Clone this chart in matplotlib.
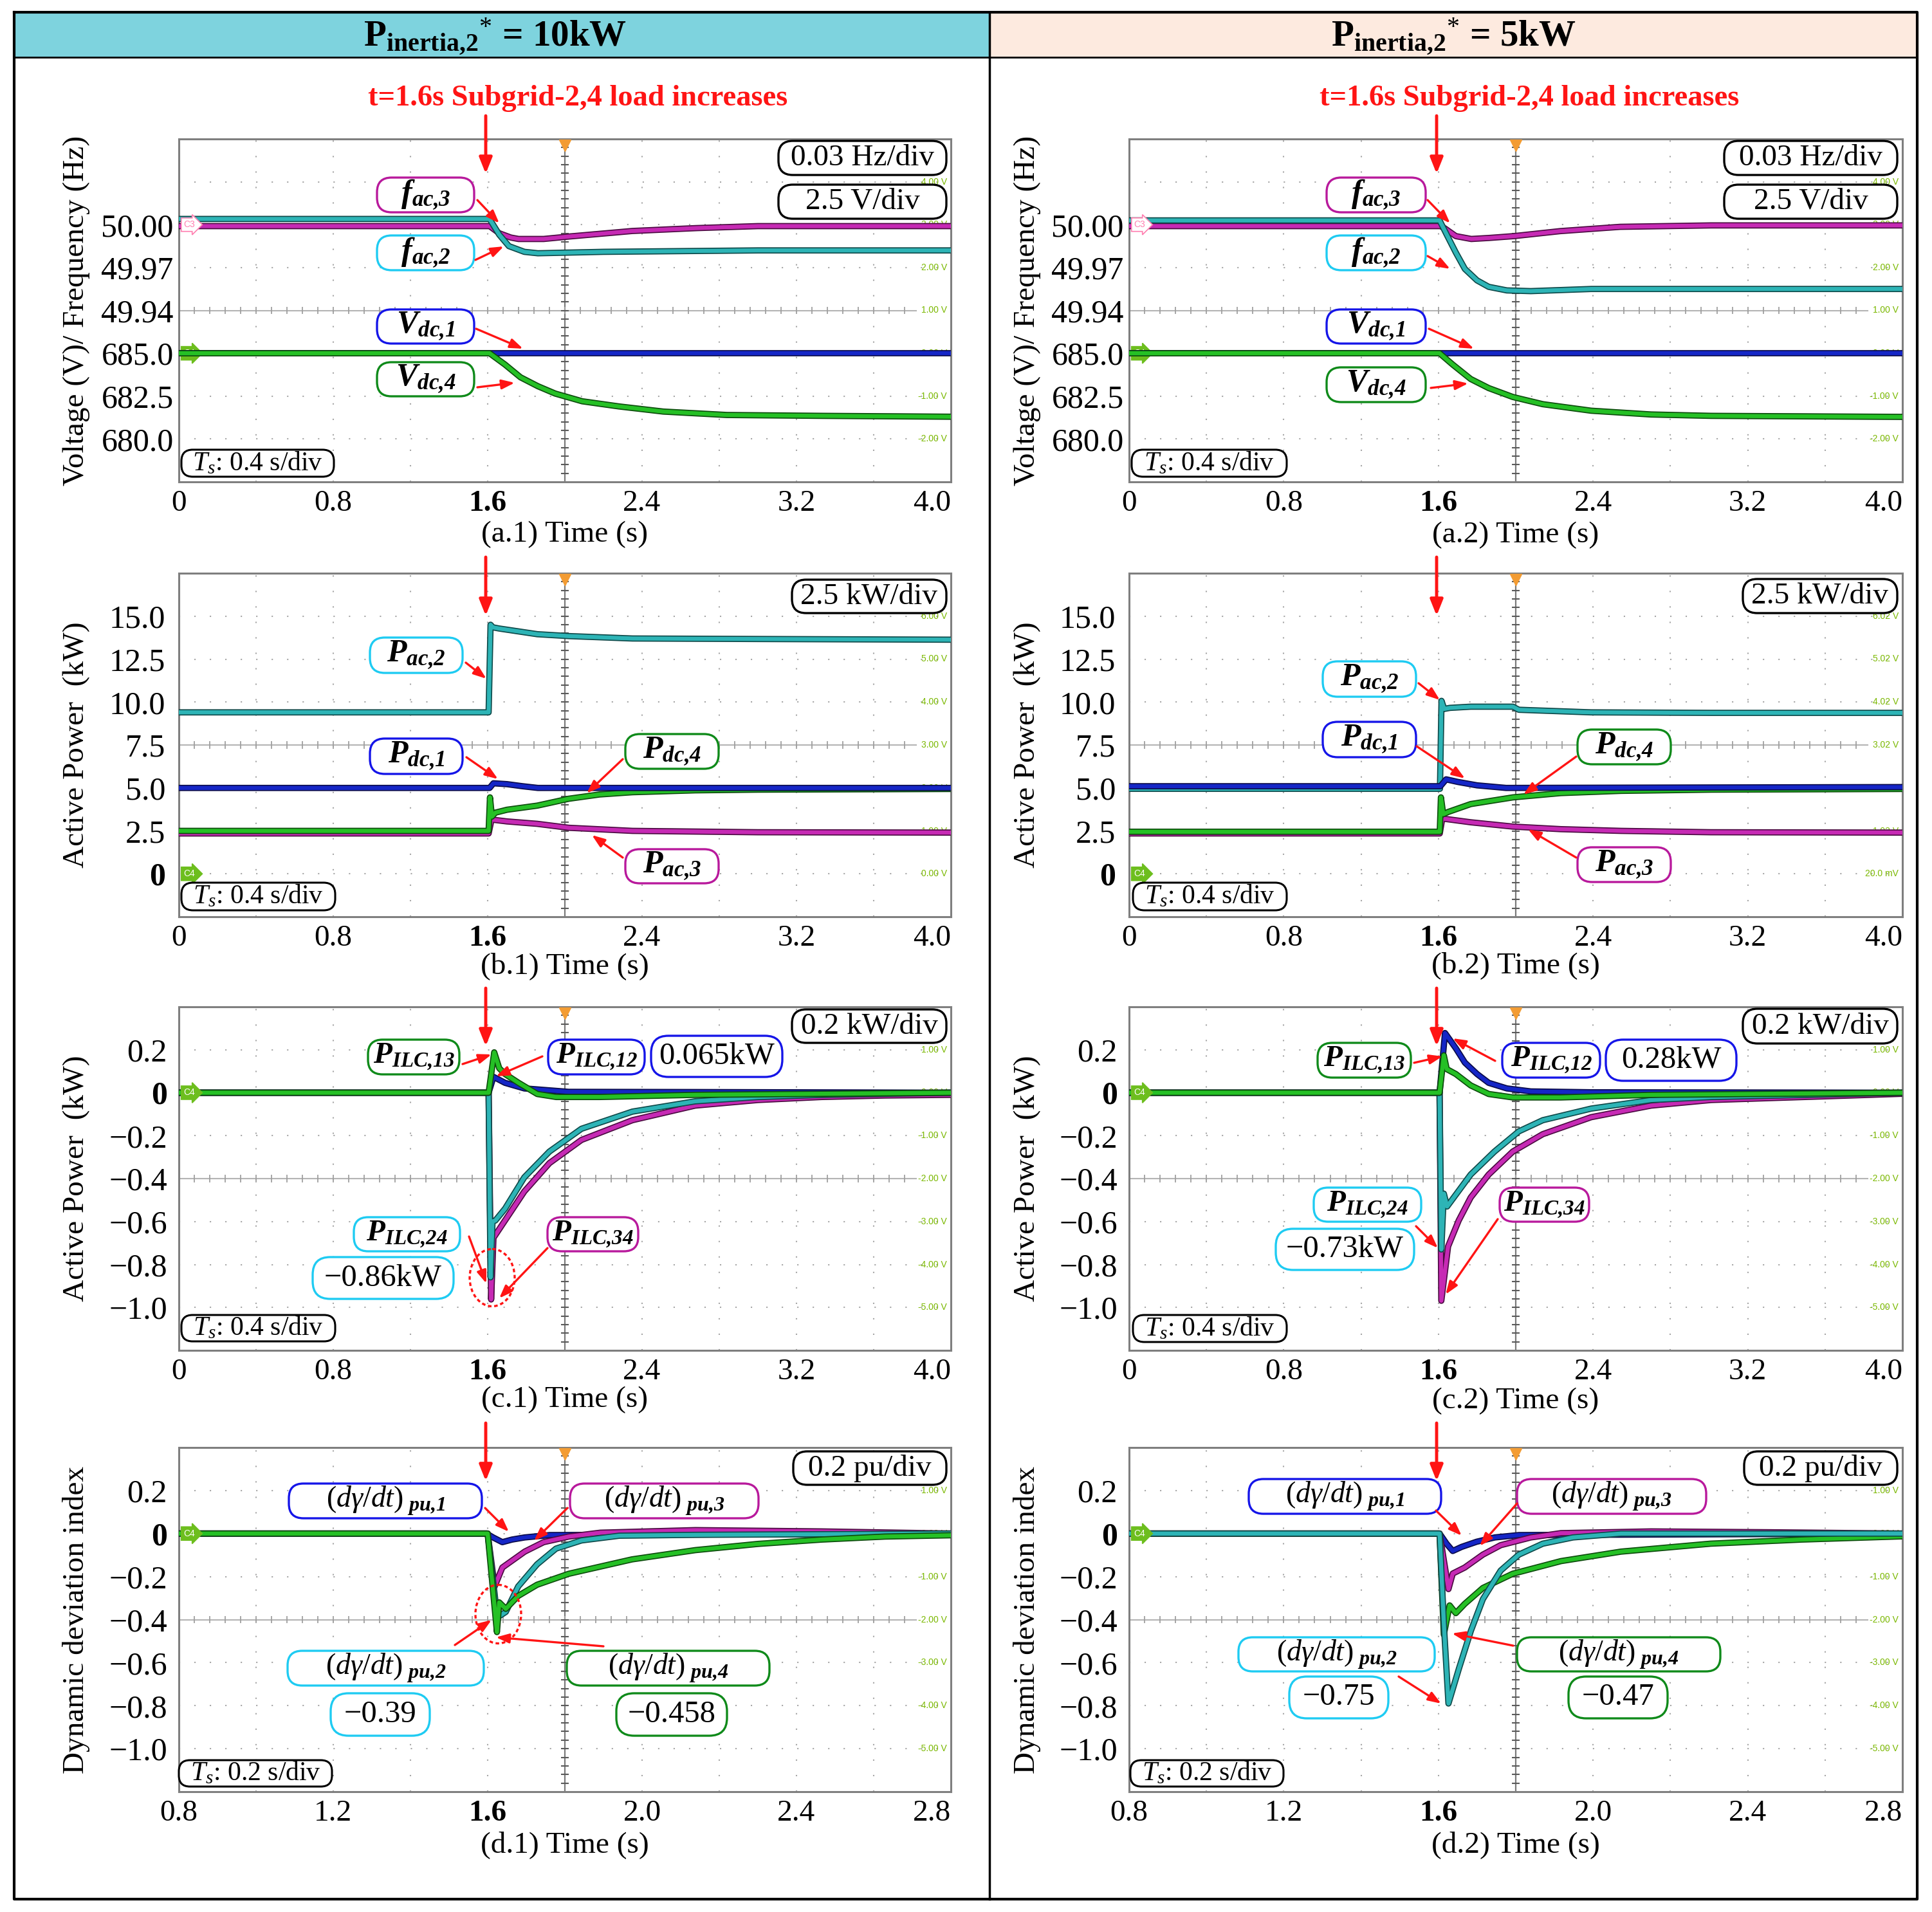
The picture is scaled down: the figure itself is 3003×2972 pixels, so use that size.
import matplotlib
matplotlib.use('Agg')
import matplotlib.pyplot as plt
import matplotlib.patheffects as pe
from matplotlib.patches import FancyBboxPatch, Ellipse, Rectangle
import numpy as np

# ---------------- data read off the scope captures ----------------
# (a) ac frequency (Hz) / dc voltage (V), time in s
t_fac3_a1 = [0, 1.61, 1.66, 1.72, 1.76, 1.89, 2.02, 2.35, 2.68, 3.00, 4.00]
fac3_a1 = [49.999, 49.999, 49.994, 49.991, 49.990, 49.990, 49.9917, 49.9956, 49.9976, 49.999, 49.999]
t_fac2_a1 = [0, 1.61, 1.66, 1.71, 1.79, 1.86, 2.20, 3.00, 4.00]
fac2_a1 = [50.004, 50.004, 49.993, 49.985, 49.981, 49.980, 49.981, 49.982, 49.982]
t_vdc1_a1 = [0, 1.60, 4.00]
vdc1_a1 = [685.0, 685.0, 685.0]
t_vdc4_a1 = [0, 1.61, 1.69, 1.77, 1.86, 1.95, 2.09, 2.28, 2.51, 2.84, 3.33, 4.00]
vdc4_a1 = [685.0, 685.0, 684.34, 683.6, 683.08, 682.65, 682.2, 681.9, 681.6, 681.4, 681.35, 681.3]

t_fac3_a2 = [0, 1.61, 1.63, 1.69, 1.77, 1.86, 1.99, 2.23, 2.54, 3.01, 4.00]
fac3_a2 = [49.999, 49.999, 49.9977, 49.992, 49.990, 49.9907, 49.992, 49.9955, 49.9985, 49.9995, 49.9995]
t_fac2_a2 = [0, 1.606, 1.643, 1.69, 1.737, 1.80, 1.86, 1.954, 2.078, 2.39, 3.01, 4.00]
fac2_a2 = [50.003, 50.003, 49.993, 49.9805, 49.969, 49.961, 49.9565, 49.954, 49.9535, 49.955, 49.955, 49.955]
t_vdc1_a2 = [0, 1.60, 4.00]
vdc1_a2 = [685.0, 685.0, 685.0]
t_vdc4_a2 = [0, 1.606, 1.674, 1.767, 1.86, 1.985, 2.14, 2.39, 2.70, 3.01, 4.00]
vdc4_a2 = [685.0, 685.0, 684.34, 683.5, 682.97, 682.45, 682.03, 681.65, 681.43, 681.35, 681.29]

# (b) active power (kW)
t_pac2_b1 = [0, 1.605, 1.615, 1.627, 1.66, 1.857, 2.02, 2.35, 3.00, 4.00]
pac2_b1 = [9.4, 9.4, 14.5, 14.35, 14.28, 13.95, 13.84, 13.7, 13.67, 13.63]
t_pdc1_b1 = [0, 1.61, 1.63, 1.70, 1.78, 1.86, 4.00]
pdc1_b1 = [5.0, 5.0, 5.27, 5.22, 5.1, 5.0, 5.0]
t_pdc4_b1 = [0, 1.605, 1.612, 1.622, 1.64, 1.70, 1.857, 2.02, 2.18, 2.35, 2.675, 3.00, 4.00]
pdc4_b1 = [2.5, 2.5, 4.45, 3.33, 3.56, 3.73, 3.97, 4.37, 4.62, 4.75, 4.86, 4.9, 4.94]
t_pac3_b1 = [0, 1.605, 1.62, 1.70, 1.857, 2.02, 2.35, 3.00, 4.00]
pac3_b1 = [2.35, 2.35, 3.16, 3.05, 2.91, 2.68, 2.5, 2.42, 2.4]

t_pac2_b2 = [0, 1.608, 1.616, 1.63, 1.659, 1.767, 1.985, 2.016, 2.39, 3.01, 4.00]
pac2_b2 = [4.95, 4.95, 10.07, 9.6, 9.66, 9.73, 9.73, 9.55, 9.4, 9.37, 9.37]
t_pdc1_b2 = [0, 1.61, 1.64, 1.70, 1.80, 1.95, 4.00]
pdc1_b2 = [5.1, 5.1, 5.5, 5.35, 5.15, 5.0, 5.05]
t_pdc4_b2 = [0, 1.607, 1.613, 1.625, 1.65, 1.767, 1.985, 2.233, 2.544, 3.01, 4.00]
pdc4_b2 = [2.45, 2.45, 4.45, 3.47, 3.6, 4.06, 4.45, 4.7, 4.83, 4.9, 4.94]
t_pac3_b2 = [0, 1.607, 1.62, 1.767, 1.985, 2.233, 2.544, 3.01, 4.00]
pac3_b2 = [2.35, 2.35, 3.22, 3.0, 2.75, 2.6, 2.5, 2.42, 2.4]

# (c) ILC power (kW)
t_p13_c1 = [0, 1.605, 1.634, 1.66, 1.69, 1.76, 1.857, 1.955, 2.18, 2.675, 4.00]
p13_c1 = [0, 0, 0.188, 0.114, 0.087, 0.046, -0.006, -0.02, -0.02, -0.01, 0]
t_p12_c1 = [0, 1.605, 1.63, 1.69, 1.79, 2.02, 2.675, 4.00]
p12_c1 = [0, 0, 0.074, 0.046, 0.02, 0.004, 0.003, 0]
t_p24_c1 = [0, 1.605, 1.615, 1.625, 1.64, 1.69, 1.79, 1.92, 2.086, 2.35, 2.675, 3.00, 3.33, 4.00]
p24_c1 = [0, 0, -0.86, -0.60, -0.595, -0.54, -0.394, -0.274, -0.168, -0.088, -0.04, -0.02, -0.01, 0]
t_p34_c1 = [0, 1.605, 1.618, 1.63, 1.69, 1.79, 1.92, 2.086, 2.35, 2.675, 3.00, 3.33, 3.66, 4.00]
p34_c1 = [0, 0, -0.963, -0.676, -0.595, -0.46, -0.328, -0.22, -0.128, -0.06, -0.034, -0.02, -0.013, -0.01]

t_p12_c2 = [0, 1.606, 1.634, 1.69, 1.737, 1.80, 1.86, 1.954, 2.078, 2.39, 4.00]
p12_c2 = [0, 0, 0.278, 0.207, 0.14, 0.087, 0.046, 0.02, 0.006, 0.002, 0]
t_p13_c2 = [0, 1.606, 1.628, 1.643, 1.69, 1.767, 1.86, 1.985, 2.233, 2.70, 4.00]
p13_c2 = [0, 0, 0.174, 0.11, 0.087, 0.034, -0.006, -0.022, -0.022, -0.01, 0]
t_p24_c2 = [0, 1.606, 1.615, 1.628, 1.645, 1.767, 1.89, 2.016, 2.14, 2.39, 2.70, 3.01, 4.00]
p24_c2 = [0, 0, -0.73, -0.47, -0.53, -0.381, -0.274, -0.18, -0.128, -0.074, -0.034, -0.02, 0]
t_p34_c2 = [0, 1.606, 1.615, 1.65, 1.705, 1.767, 1.86, 1.985, 2.14, 2.39, 2.70, 3.01, 3.63, 4.00]
p34_c2 = [0, 0, -0.969, -0.716, -0.595, -0.488, -0.381, -0.274, -0.193, -0.114, -0.06, -0.034, -0.016, -0.005]

# (d) dynamic deviation index (pu)
t_g1_d1 = [0.8, 1.597, 1.614, 1.638, 1.663, 1.696, 1.761, 2.8]
g1_d1 = [0, 0, -0.018, -0.04, -0.028, -0.018, -0.007, 0]
t_g3_d1 = [0.8, 1.600, 1.618, 1.638, 1.696, 1.745, 1.81, 1.892, 2.138, 2.465, 2.8]
g3_d1 = [0, 0, -0.246, -0.158, -0.084, -0.04, -0.014, 0.004, 0.016, 0.01, 0]
t_g2_d1 = [0.8, 1.600, 1.625, 1.647, 1.679, 1.728, 1.777, 1.843, 1.941, 2.138, 2.8]
g2_d1 = [0, 0, -0.39, -0.364, -0.246, -0.143, -0.07, -0.032, -0.01, -0.006, 0]
t_g4_d1 = [0.8, 1.600, 1.624, 1.63, 1.647, 1.679, 1.728, 1.81, 1.974, 2.138, 2.301, 2.465, 2.629, 2.8]
g4_d1 = [0, 0, -0.458, -0.32, -0.35, -0.29, -0.238, -0.187, -0.12, -0.077, -0.048, -0.028, -0.014, -0.008]

t_g1_d2 = [0.8, 1.603, 1.621, 1.637, 1.66, 1.699, 1.746, 1.808, 2.8]
g1_d2 = [0, 0, -0.047, -0.081, -0.062, -0.038, -0.018, -0.007, 0]
t_g3_d2 = [0.8, 1.603, 1.626, 1.637, 1.668, 1.715, 1.761, 1.839, 1.917, 2.15, 2.46, 2.8]
g3_d2 = [0, 0, -0.258, -0.186, -0.158, -0.098, -0.054, -0.018, 0.002, 0.01, 0.006, 0]
t_g2_d2 = [0.8, 1.603, 1.615, 1.626, 1.653, 1.684, 1.715, 1.761, 1.808, 1.87, 1.948, 2.072, 2.8]
g2_d2 = [0, 0, -0.45, -0.79, -0.628, -0.452, -0.305, -0.172, -0.098, -0.047, -0.018, 0, 0]
t_g4_d2 = [0.8, 1.603, 1.614, 1.629, 1.645, 1.668, 1.715, 1.792, 1.917, 2.072, 2.304, 2.538, 2.8]
g4_d2 = [0, 0, -0.47, -0.334, -0.37, -0.327, -0.253, -0.187, -0.128, -0.084, -0.047, -0.028, -0.013]

# axis ticks / scope labels
time_ticks = [0, 0.8, 1.6, 2.4, 3.2, 4.0]
time_labels = ['0', '0.8', '1.6', '2.4', '3.2', '4.0']
time_ticks_d = [0.8, 1.2, 1.6, 2.0, 2.4, 2.8]
time_labels_d = ['0.8', '1.2', '1.6', '2.0', '2.4', '2.8']
freq_ticks = [50.00, 49.97, 49.94]
freq_labels = ['50.00', '49.97', '49.94']
volt_ticks = [685.0, 682.5, 680.0]
volt_labels = ['685.0', '682.5', '680.0']
pow_ticks = [15.0, 12.5, 10.0, 7.5, 5.0, 2.5, 0]
pow_labels = ['15.0', '12.5', '10.0', '7.5', '5.0', '2.5', '0']
small_ticks = [0.2, 0, -0.2, -0.4, -0.6, -0.8, -1.0]
small_labels = ['0.2', '0', '\u22120.2', '\u22120.4', '\u22120.6', '\u22120.8', '\u22121.0']
scope_a = ['-2.00 V', '-1.00 V', '0.00 V', '1.00 V', '2.00 V', '3.00 V', '4.00 V']
scope_b1 = ['0.00 V', '1.00 V', '2.00 V', '3.00 V', '4.00 V', '5.00 V', '6.00 V']
scope_b2 = ['20.0 mV', '1.02 V', '2.02 V', '3.02 V', '4.02 V', '5.02 V', '6.02 V']
scope_cd = ['-5.00 V', '-4.00 V', '-3.00 V', '-2.00 V', '-1.00 V', '0.00 V', '1.00 V']

# ---------------- style ----------------
plt.rcParams['font.family'] = 'Liberation Serif'
plt.rcParams['mathtext.fontset'] = 'custom'
plt.rcParams['mathtext.rm'] = 'Liberation Serif'
plt.rcParams['mathtext.it'] = 'Liberation Serif:italic'
plt.rcParams['mathtext.bf'] = 'Liberation Serif:bold'
plt.rcParams['mathtext.bfit'] = 'Liberation Serif:bold:italic'
plt.rcParams['lines.scale_dashes'] = False

CYN, CYN_T, CYN_D = '#1ECBF2', '#2DB4B6', '#0E4848'
MAG, MAG_T, MAG_D = '#B8199C', '#C62AB4', '#4A0A40'
BLU, BLU_T, BLU_D = '#1515E8', '#1526C6', '#0A0A48'
GRN, GRN_T, GRN_D = '#0F8A1A', '#25C025', '#0C4A0C'
RED = '#FF1414'

W, H = 3003, 2972
fig = plt.figure(figsize=(W / 100, H / 100), dpi=100)


def px_axes(l, t, r, b):
    return fig.add_axes([l / W, 1 - b / H, (r - l) / W, (b - t) / H])


def scope_grid(ax, side):
    dots = (0, (1.5, 15.8))
    for k in range(1, 10):
        if k != 5:
            ax.plot([k / 10] * 2, [0, 1], transform=ax.transAxes, color='#A6A6A6', lw=1.5, ls=dots, zorder=0.5)
    for k in range(1, 8):
        if k != 4:
            ax.plot([0, 1], [k / 8] * 2, transform=ax.transAxes, color='#A6A6A6', lw=1.5, ls=dots, zorder=0.5)
    ax.plot([0, 0.955], [0.5, 0.5], transform=ax.transAxes, color='#B4B4B4', lw=1.5, zorder=0.6)
    ax.plot([0.5, 0.5], [0, 1], transform=ax.transAxes, color='#7A7A7A', lw=1.6, zorder=0.6)
    xs = np.arange(1, 48) / 50
    ax.vlines(xs, 0.5 - 0.011, 0.5 + 0.011, transform=ax.transAxes, colors='#A0A0A0', lw=1.3, zorder=0.6)
    ys = np.arange(1, 40) / 40
    ax.hlines(ys, 0.5 - 0.005, 0.5 + 0.005, transform=ax.transAxes, colors='#5A5A5A', lw=1.5, zorder=0.6)
    ax.plot(0.5, 0.982, marker='v', ms=13, color='#F39C33', transform=ax.transAxes, zorder=4, clip_on=False)
    for k, s in enumerate(side):
        ax.text(0.995, (k + 1) / 8, s, transform=ax.transAxes, ha='right', va='center',
                fontsize=10, color='#7AB800', family='Liberation Sans', zorder=0.7)


def ctag(ax, y, name, fc, ec, tc):
    ax.text(0.006, y, name, transform=ax.transAxes, ha='left', va='center', fontsize=10,
            color=tc, family='Liberation Sans', zorder=6,
            bbox=dict(boxstyle='rarrow,pad=0.25', fc=fc, ec=ec, lw=1.2))


def setup(ax, xlim, ylim, xt, xl, yt, yl, xlabel, ylabel, ylab_x, xlab_y, ypad, bold0=False):
    ax.set_xlim(xlim)
    ax.set_ylim(ylim)
    ax.set_xticks(xt, xl)
    ax.set_yticks(yt, yl)
    ax.tick_params(axis='both', length=0)
    ax.tick_params(axis='x', labelsize=34, pad=9)
    ax.tick_params(axis='y', labelsize=36, pad=ypad)
    xlabs = ax.get_xticklabels()
    for lab in xlabs:
        if lab.get_text() == '1.6':
            lab.set_fontweight('bold')
    xlabs[-1].set_ha('right')
    if bold0:
        for lab in ax.get_yticklabels():
            if lab.get_text() == '0':
                lab.set_fontweight('bold')
    for s in ax.spines.values():
        s.set_color('#7F7F7F')
        s.set_linewidth(2.2)
    ax.set_xlabel(xlabel, fontsize=34)
    ax.xaxis.set_label_coords(0.5, xlab_y)
    ax.xaxis.label.set_va('center')
    ax.set_ylabel(ylabel, fontsize=34)
    ax.yaxis.set_label_coords(ylab_x, 0.5)
    ax.yaxis.label.set_va('center')


def trace(ax, t, y, color, dark, z=3):
    ax.plot(t, y, color=color, lw=4.6, zorder=z, solid_joinstyle='round',
            path_effects=[pe.Stroke(linewidth=7.0, foreground=dark), pe.Normal()])


cols = [(278, 1478, -0.133), (1755, 2957, -0.132)]
rows_y = {'a': (216, 749), 'b': (891, 1425), 'c': (1565, 2099), 'd': (2250, 2785)}
xlab_pos = {'a': [-0.153, -0.155], 'b': [-0.143, -0.142], 'c': [-0.143, -0.148], 'd': [-0.155, -0.155]}

# ---- row a ----
for i, (l, r, ylx) in enumerate(cols):
    t0, b0 = rows_y['a']
    ax = px_axes(l, t0, r, b0)
    scope_grid(ax, scope_a)
    tw = ax.twinx()
    tw.set_ylim(677.5, 697.5)
    tw.set_yticks(volt_ticks, volt_labels)
    tw.yaxis.tick_left()
    tw.tick_params(axis='y', length=0, labelsize=36, pad=6)
    tw.patch.set_visible(False)
    for s in tw.spines.values():
        s.set_visible(False)
    setup(ax, (0, 4.0), (49.82, 50.06), time_ticks, time_labels, freq_ticks, freq_labels,
          '(a.%d) Time (s)' % (i + 1), 'Voltage (V)/ Frequency (Hz)', ylx, xlab_pos['a'][i], 6)
    if i == 0:
        trace(ax, t_fac3_a1, fac3_a1, MAG_T, MAG_D)
        trace(ax, t_fac2_a1, fac2_a1, CYN_T, CYN_D, z=3.2)
        trace(tw, t_vdc1_a1, vdc1_a1, BLU_T, BLU_D)
        trace(tw, t_vdc4_a1, vdc4_a1, GRN_T, GRN_D, z=3.2)
    else:
        trace(ax, t_fac3_a2, fac3_a2, MAG_T, MAG_D)
        trace(ax, t_fac2_a2, fac2_a2, CYN_T, CYN_D, z=3.2)
        trace(tw, t_vdc1_a2, vdc1_a2, BLU_T, BLU_D)
        trace(tw, t_vdc4_a2, vdc4_a2, GRN_T, GRN_D, z=3.2)
    tw.set_xlim(0, 4.0)
    ctag(ax, 6 / 8, 'C3', 'white', '#FF7FB0', '#FF7FB0')
    ctag(ax, 3 / 8, 'C4', '#6DBE1E', '#6DBE1E', 'white')

# ---- row b ----
for i, (l, r, ylx) in enumerate(cols):
    t0, b0 = rows_y['b']
    ax = px_axes(l, t0, r, b0)
    scope_grid(ax, scope_b1 if i == 0 else scope_b2)
    setup(ax, (0, 4.0), (-2.5, 17.5), time_ticks, time_labels, pow_ticks, pow_labels,
          '(b.%d) Time (s)' % (i + 1), 'Active Power  (kW)', ylx, xlab_pos['b'][i], 15, bold0=True)
    if i == 0:
        trace(ax, t_pac3_b1, pac3_b1, MAG_T, MAG_D)
        trace(ax, t_pdc4_b1, pdc4_b1, GRN_T, GRN_D, z=3.1)
        trace(ax, t_pdc1_b1, pdc1_b1, BLU_T, BLU_D, z=3.2)
        trace(ax, t_pac2_b1, pac2_b1, CYN_T, CYN_D, z=3.3)
    else:
        trace(ax, t_pac3_b2, pac3_b2, MAG_T, MAG_D)
        trace(ax, t_pdc4_b2, pdc4_b2, GRN_T, GRN_D, z=3.1)
        trace(ax, t_pac2_b2, pac2_b2, CYN_T, CYN_D, z=3.2)
        trace(ax, t_pdc1_b2, pdc1_b2, BLU_T, BLU_D, z=3.3)
    ctag(ax, 1 / 8, 'C4', '#6DBE1E', '#6DBE1E', 'white')

# ---- row c ----
for i, (l, r, ylx) in enumerate(cols):
    t0, b0 = rows_y['c']
    ax = px_axes(l, t0, r, b0)
    scope_grid(ax, scope_cd)
    setup(ax, (0, 4.0), (-1.2, 0.4), time_ticks, time_labels, small_ticks, small_labels,
          '(c.%d) Time (s)' % (i + 1), 'Active Power  (kW)', ylx, xlab_pos['c'][i], 13, bold0=True)
    if i == 0:
        trace(ax, t_p34_c1, p34_c1, MAG_T, MAG_D)
        trace(ax, t_p24_c1, p24_c1, CYN_T, CYN_D, z=3.1)
        trace(ax, t_p12_c1, p12_c1, BLU_T, BLU_D, z=3.2)
        trace(ax, t_p13_c1, p13_c1, GRN_T, GRN_D, z=3.3)
    else:
        trace(ax, t_p34_c2, p34_c2, MAG_T, MAG_D)
        trace(ax, t_p24_c2, p24_c2, CYN_T, CYN_D, z=3.1)
        trace(ax, t_p12_c2, p12_c2, BLU_T, BLU_D, z=3.2)
        trace(ax, t_p13_c2, p13_c2, GRN_T, GRN_D, z=3.3)
    ctag(ax, 6 / 8, 'C4', '#6DBE1E', '#6DBE1E', 'white')

# ---- row d ----
for i, (l, r, ylx) in enumerate(cols):
    t0, b0 = rows_y['d']
    ax = px_axes(l, t0, r, b0)
    scope_grid(ax, scope_cd)
    setup(ax, (0.8, 2.8), (-1.2, 0.4), time_ticks_d, time_labels_d, small_ticks, small_labels,
          '(d.%d) Time (s)' % (i + 1), 'Dynamic deviation index', ylx, xlab_pos['d'][i], 13, bold0=True)
    if i == 0:
        trace(ax, t_g1_d1, g1_d1, BLU_T, BLU_D)
        trace(ax, t_g3_d1, g3_d1, MAG_T, MAG_D, z=3.1)
        trace(ax, t_g2_d1, g2_d1, CYN_T, CYN_D, z=3.2)
        trace(ax, t_g4_d1, g4_d1, GRN_T, GRN_D, z=3.3)
    else:
        trace(ax, t_g1_d2, g1_d2, BLU_T, BLU_D)
        trace(ax, t_g3_d2, g3_d2, MAG_T, MAG_D, z=3.1)
        trace(ax, t_g4_d2, g4_d2, GRN_T, GRN_D, z=3.2)
        trace(ax, t_g2_d2, g2_d2, CYN_T, CYN_D, z=3.3)
    ctag(ax, 6 / 8, 'C4', '#6DBE1E', '#6DBE1E', 'white')

# ---------------- overlay: frame, header, callouts ----------------
ov = fig.add_axes([0, 0, 1, 1])
ov.set_xlim(0, W)
ov.set_ylim(H, 0)
ov.axis('off')
ov.set_zorder(10)
ov.patch.set_alpha(0)

ov.add_patch(Rectangle((22, 19), 1516, 70, fc='#7ED3DE', ec='none'))
ov.add_patch(Rectangle((1538, 19), 1442, 70, fc='#FDEADF', ec='none'))
ov.plot([22, 2980, 2980, 22, 22], [19, 19, 2952, 2952, 19], color='k', lw=3)
ov.plot([22, 2980], [89, 89], color='k', lw=2)
ov.plot([1538, 1538], [19, 2952], color='k', lw=2.5)
ov.text(770, 56, r'$\mathbf{P}_{\mathbf{inertia{,}2}}{}^{*}$ = 10kW', ha='center', va='center',
        fontsize=41, fontweight='bold')
ov.text(2259, 56, r'$\mathbf{P}_{\mathbf{inertia{,}2}}{}^{*}$ = 5kW', ha='center', va='center',
        fontsize=41, fontweight='bold')
for cx in (898, 2377):
    ov.text(cx, 153, 't=1.6s Subgrid-2,4 load increases', ha='center', va='center',
            fontsize=33.5, fontweight='bold', color=RED)

# event arrows at t = 1.6 s
for x in (755, 2233):
    for y0, y1 in ((180, 270), (866, 957), (1536, 1626), (2212, 2302)):
        ov.annotate('', xy=(x, y1), xytext=(x, y0),
                    arrowprops=dict(arrowstyle='-|>,head_length=0.75,head_width=0.3',
                                    color=RED, lw=3.5, mutation_scale=20, shrinkA=0, shrinkB=0))


def rbox(x0, y0, x1, y1, txt, ec='k', fs=34, lw=2.4):
    h = y1 - y0
    ov.add_patch(FancyBboxPatch((x0, y0), x1 - x0, h, boxstyle='round,pad=0,rounding_size=%g' % (h * 0.42),
                                fc='white', ec=ec, lw=lw, zorder=5))
    ov.text((x0 + x1) / 2, (y0 + y1) / 2, txt, ha='center', va='center', fontsize=fs, zorder=6)


def arr(x0, y0, x1, y1):
    ov.annotate('', xy=(x1, y1), xytext=(x0, y0), zorder=7,
                arrowprops=dict(arrowstyle='-|>,head_length=0.6,head_width=0.22', color=RED,
                                lw=2.4, mutation_scale=20, shrinkA=0, shrinkB=0))


def tsbox(x0, y0, x1, y1, dt):
    rbox(x0, y0, x1, y1, r'$T_s$: %s s/div' % dt, fs=30, lw=2.2)


def sym(base, sub):
    return r'$\mathbfit{%s}_{\mathbfit{%s}}$' % (base, sub.replace(',', '{,}'))


def dg(sub):
    return r'$(\mathit{d\gamma/dt})_{\ \mathbfit{%s}}$' % sub.replace(',', '{,}')


LAB = 36  # size of the signal name callouts

# a.1
rbox(1210, 219, 1471, 272, '0.03 Hz/div')
rbox(1210, 287, 1471, 340, '2.5 V/div')
rbox(586, 276, 737, 330, sym('f', 'ac,3'), MAG, fs=LAB); arr(742, 311, 776, 347)
rbox(586, 366, 737, 420, sym('f', 'ac,2'), CYN, fs=LAB); arr(739, 404, 783, 383)
rbox(586, 481, 737, 534, sym('V', 'dc,1'), BLU, fs=LAB); arr(740, 511, 813, 542)
rbox(586, 563, 737, 616, sym('V', 'dc,4'), GRN, fs=LAB); arr(742, 602, 800, 595)
tsbox(282, 699, 519, 741, '0.4')
# a.2
rbox(2680, 219, 2949, 272, '0.03 Hz/div')
rbox(2680, 287, 2949, 340, '2.5 V/div')
rbox(2062, 276, 2216, 330, sym('f', 'ac,3'), MAG, fs=LAB); arr(2219, 311, 2254, 347)
rbox(2062, 366, 2216, 420, sym('f', 'ac,2'), CYN, fs=LAB); arr(2219, 398, 2254, 418)
rbox(2062, 481, 2216, 534, sym('V', 'dc,1'), BLU, fs=LAB); arr(2221, 511, 2291, 542)
rbox(2062, 571, 2216, 625, sym('V', 'dc,4'), GRN, fs=LAB); arr(2224, 603, 2282, 596)
tsbox(1759, 699, 2000, 741, '0.4')
# b.1
rbox(1231, 901, 1471, 953, '2.5 kW/div')
rbox(575, 991, 719, 1046, sym('P', 'ac,2'), CYN, fs=LAB); arr(724, 1030, 756, 1055)
rbox(575, 1148, 719, 1203, sym('P', 'dc,1'), BLU, fs=LAB); arr(725, 1177, 774, 1211)
rbox(972, 1141, 1117, 1195, sym('P', 'dc,4'), GRN, fs=LAB); arr(968, 1180, 912, 1233)
rbox(972, 1320, 1117, 1373, sym('P', 'ac,3'), MAG, fs=LAB); arr(968, 1333, 920, 1298)
tsbox(282, 1372, 521, 1415, '0.4')
# b.2
rbox(2709, 900, 2949, 953, '2.5 kW/div')
rbox(2056, 1028, 2201, 1083, sym('P', 'ac,2'), CYN, fs=LAB); arr(2205, 1062, 2238, 1088)
rbox(2056, 1122, 2201, 1177, sym('P', 'dc,1'), BLU, fs=LAB); arr(2202, 1160, 2277, 1210)
rbox(2452, 1134, 2597, 1188, sym('P', 'dc,4'), GRN, fs=LAB); arr(2450, 1176, 2368, 1235)
rbox(2452, 1317, 2597, 1371, sym('P', 'ac,3'), MAG, fs=LAB); arr(2450, 1333, 2375, 1289)
tsbox(1761, 1372, 2000, 1415, '0.4')
# c.1
rbox(1231, 1569, 1471, 1621, '0.2 kW/div')
rbox(572, 1616, 714, 1670, sym('P', 'ILC,13'), GRN, fs=34); arr(719, 1654, 764, 1639)
rbox(852, 1616, 1002, 1670, sym('P', 'ILC,12'), BLU, fs=34); arr(843, 1642, 771, 1673)
rbox(1012, 1610, 1216, 1674, '0.065kW', BLU, fs=35)
rbox(550, 1892, 715, 1945, sym('P', 'ILC,24'), CYN, fs=34); arr(729, 1922, 756, 1995)
rbox(486, 1954, 705, 2019, '\u22120.86kW', CYN, fs=35)
rbox(851, 1892, 992, 1945, sym('P', 'ILC,34'), MAG, fs=34); arr(851, 1940, 776, 2018)
ov.add_patch(Ellipse((765, 1986), 70, 89, fill=False, ec=RED, ls=(0, (4, 3)), lw=2.4, zorder=6))
tsbox(282, 2044, 521, 2085, '0.4')
# c.2
rbox(2709, 1568, 2949, 1622, '0.2 kW/div')
rbox(2048, 1621, 2193, 1675, sym('P', 'ILC,13'), GRN, fs=34); arr(2198, 1652, 2242, 1642)
rbox(2335, 1621, 2487, 1675, sym('P', 'ILC,12'), BLU, fs=34); arr(2324, 1649, 2258, 1614)
rbox(2496, 1616, 2699, 1680, '0.28kW', BLU, fs=35)
rbox(2042, 1846, 2209, 1899, sym('P', 'ILC,24'), CYN, fs=34); arr(2201, 1906, 2235, 1940)
rbox(1983, 1910, 2198, 1974, '\u22120.73kW', CYN, fs=35)
rbox(2331, 1846, 2470, 1899, sym('P', 'ILC,34'), MAG, fs=34); arr(2328, 1895, 2247, 2012)
tsbox(1761, 2044, 2000, 2086, '0.4')
# d.1
rbox(1233, 2256, 1471, 2308, '0.2 pu/div')
rbox(449, 2306, 749, 2360, dg('pu,1'), BLU, fs=33); arr(754, 2344, 791, 2381)
rbox(886, 2306, 1179, 2360, dg('pu,3'), MAG, fs=33); arr(882, 2344, 830, 2395)
rbox(447, 2566, 752, 2620, dg('pu,2'), CYN, fs=33); arr(707, 2557, 764, 2518)
rbox(881, 2566, 1196, 2620, dg('pu,4'), GRN, fs=33); arr(938, 2559, 771, 2545)
rbox(514, 2632, 668, 2698, '\u22120.39', CYN, fs=35)
rbox(958, 2632, 1130, 2698, '\u22120.458', GRN, fs=35)
ov.add_patch(Ellipse((774.5, 2509), 71, 91, fill=False, ec=RED, ls=(0, (4, 3)), lw=2.4, zorder=6))
tsbox(278, 2736, 516, 2777, '0.2')
# d.2
rbox(2711, 2256, 2949, 2308, '0.2 pu/div')
rbox(1941, 2299, 2240, 2353, dg('pu,1'), BLU, fs=33); arr(2232, 2348, 2272, 2387)
rbox(2358, 2299, 2652, 2353, dg('pu,3'), MAG, fs=33); arr(2358, 2337, 2300, 2403)
rbox(1925, 2545, 2230, 2598, dg('pu,2'), CYN, fs=33)
rbox(2004, 2606, 2158, 2671, '\u22120.75', CYN, fs=35); arr(2174, 2606, 2240, 2648)
rbox(2358, 2545, 2674, 2598, dg('pu,4'), GRN, fs=33); arr(2352, 2558, 2257, 2539)
rbox(2438, 2606, 2592, 2671, '\u22120.47', GRN, fs=35)
tsbox(1757, 2736, 1995, 2777, '0.2')

fig.savefig('out.png', dpi=100)
